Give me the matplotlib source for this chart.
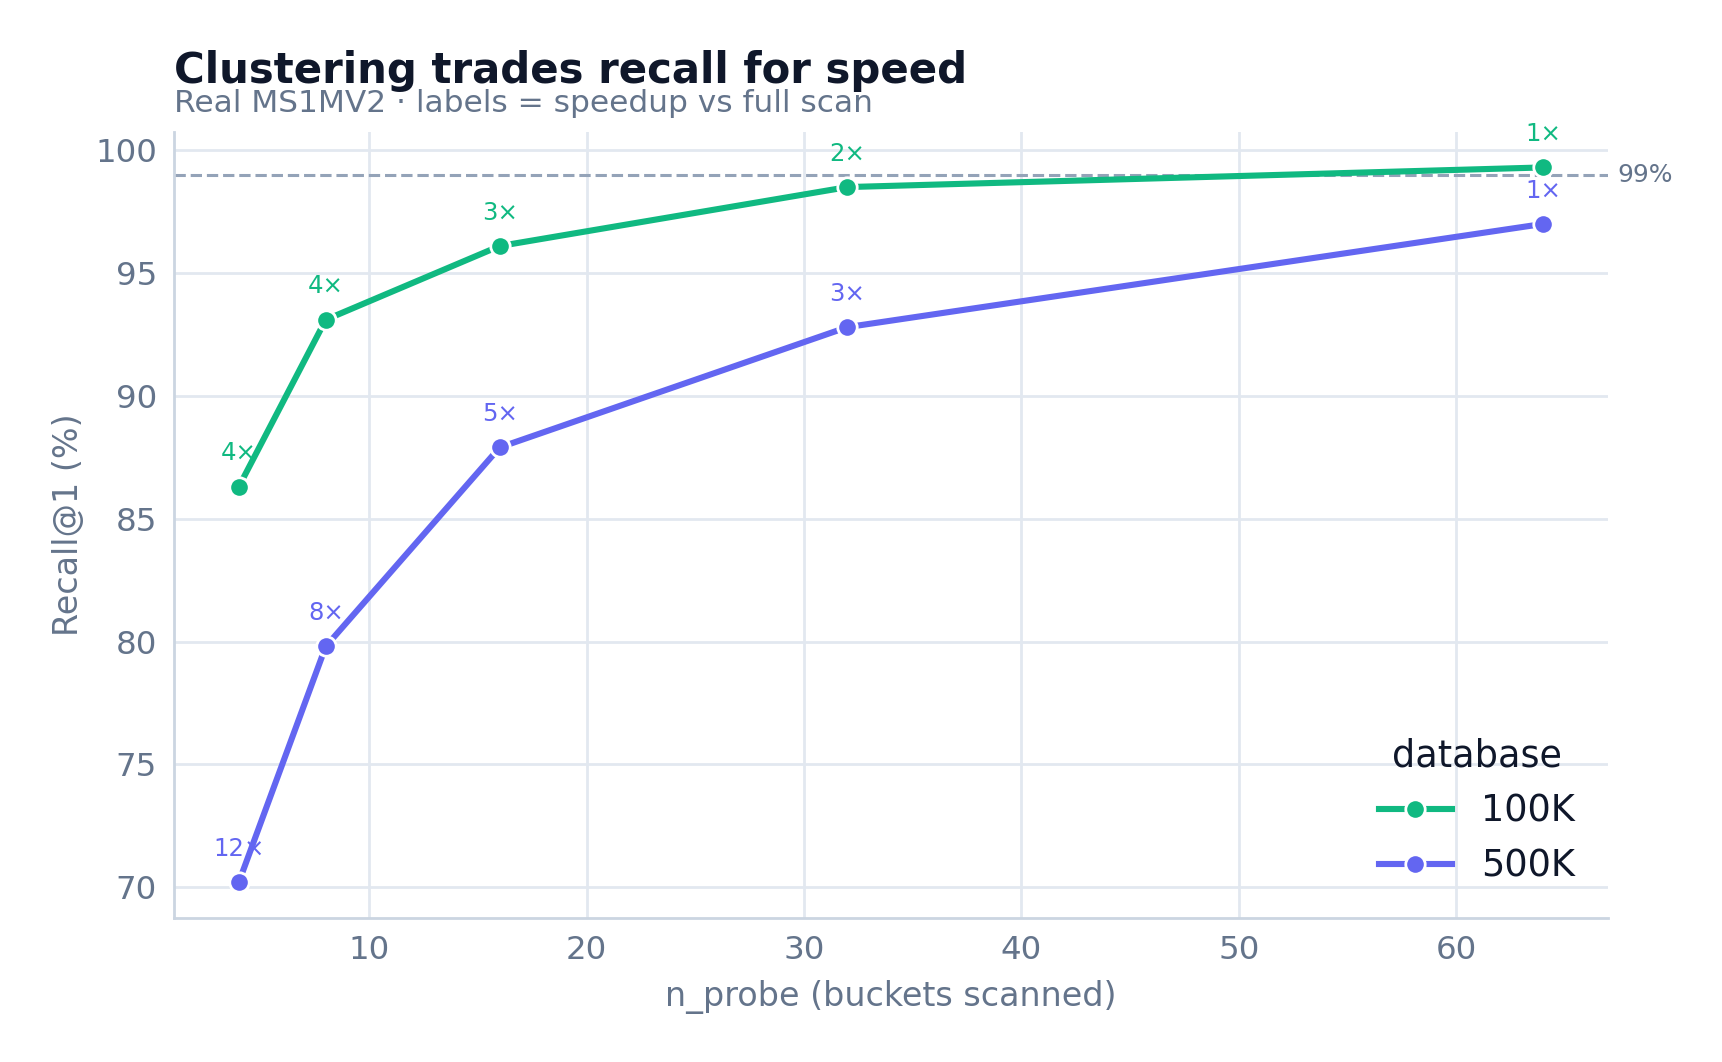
import numpy as np
import matplotlib.pyplot as plt

n_probe = [4, 8, 16, 32, 64]
recall_100k = [86.3, 93.1, 96.1, 98.5, 99.3]
recall_500k = [70.2, 79.8, 87.9, 92.8, 97.0]
speed_100k = ['4×', '4×', '3×', '2×', '1×']
speed_500k = ['12×', '8×', '5×', '3×', '1×']
target = 99

green = '#10b981'
indigo = '#6366f1'
muted = '#64748b'
dark = '#0f172a'

fig = plt.figure(figsize=(8.61, 5.31), dpi=200)
ax = fig.add_axes([0.1008, 0.1356, 0.8332, 0.7404])

series = [('100K', recall_100k, speed_100k, green),
          ('500K', recall_500k, speed_500k, indigo)]
for name, vals, labs, col in series:
    ax.plot(n_probe, vals, color=col, lw=2.2, marker='o', ms=7,
            markeredgecolor='white', markeredgewidth=1.0, label=name, zorder=3)
    for x, y, s in zip(n_probe, vals, labs):
        ax.annotate(s, (x, y), xytext=(0, 12), textcoords='offset points',
                    ha='center', va='center', fontsize=8.8, color=col)

ax.axhline(target, color='#94a3b8', lw=1.1, ls='--', zorder=2)
ax.text(1.006, target, '99%', transform=ax.get_yaxis_transform(),
        ha='left', va='center', fontsize=9, color=muted)

ax.set_yticks([70, 75, 80, 85, 90, 95, 100])
ax.set_xticks([10, 20, 30, 40, 50, 60])
ax.grid(True, color='#e2e8f0', lw=1.0)
ax.set_axisbelow(True)
for s in ['top', 'right']:
    ax.spines[s].set_visible(False)
for s in ['left', 'bottom']:
    ax.spines[s].set_color('#cbd5e1')
    ax.spines[s].set_linewidth(1.0)
ax.tick_params(length=0, labelsize=11.7, labelcolor=muted, pad=6)
ax.set_xlabel('n_probe (buckets scanned)', fontsize=12, color=muted, labelpad=5)
ax.set_ylabel('Recall@1 (%)', fontsize=12, color=muted, labelpad=3.5)

leg = ax.legend(title='database', loc='lower right', frameon=False,
                fontsize=13.2, title_fontsize=13.2)
for t in leg.get_texts():
    t.set_color(dark)
leg.get_title().set_color(dark)

fig.text(0.1008, 0.922, 'Clustering trades recall for speed', fontsize=15.1,
         fontweight='bold', color=dark, va='baseline')
fig.text(0.1008, 0.895, 'Real MS1MV2 · labels = speedup vs full scan',
         fontsize=11.25, color=muted, va='baseline')

fig.savefig('out.png', dpi=200)
